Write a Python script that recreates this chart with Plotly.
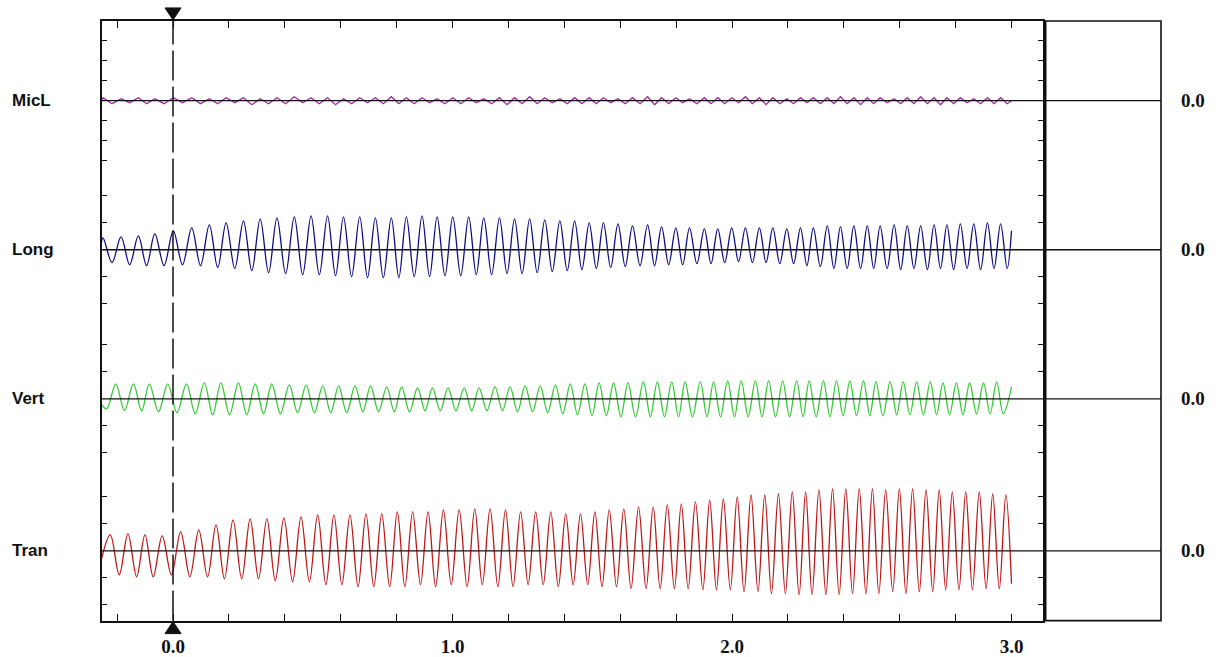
import plotly.graph_objects as go

# ---------------- data ----------------
CHANNELS = ["MicL", "Long", "Vert", "Tran"]

# times (s) of the successive Long peaks (cycle reference, chirp ~16 -> 21 Hz)
PEAK_T = [-0.250, -0.186, -0.124, -0.065, 0.001, 0.067, 0.130, 0.190, 0.252, 0.312,
          0.372, 0.434, 0.494, 0.553, 0.610, 0.668, 0.724, 0.781,
          0.835, 0.891, 0.945, 1.001, 1.058, 1.112, 1.168, 1.222, 1.276, 1.330,
          1.384, 1.437, 1.489, 1.540, 1.592, 1.644, 1.698, 1.748, 1.799, 1.848, 1.901,
          1.949, 1.999, 2.048, 2.098, 2.146, 2.196, 2.245, 2.291, 2.341, 2.388, 2.436,
          2.484, 2.530, 2.580, 2.627, 2.675, 2.723, 2.769, 2.817, 2.865, 2.914, 2.961]

# per-cycle positive peaks and following troughs (display units)
MICL_PEAKS = [3, 2, 3, 2, 3, 3, 2, 3, 3, 2, 3, 4, 3, 3, 2, 3, 3, 4,
              3, 3, 2, 3, 3, 2, 3, 3, 4, 3, 2, 3, 3, 3, 2, 3, 4, 3, 3, 2, 3,
              3, 3, 4, 3, 3, 2, 3, 3, 3, 4, 3, 3, 3, 2, 3, 4, 3, 3, 3, 2, 3, 3]
MICL_TROUGHS = [-3, -2, -3, -3, -2, -3, -3, -2, -4, -3, -3, -2, -3, -4, -3, -2, -3, -3,
                -3, -2, -3, -3, -2, -3, -4, -3, -3, -2, -3, -3, -3, -2, -3, -3, -4, -3, -2, -3, -3,
                -3, -2, -3, -4, -3, -3, -2, -3, -3, -3, -4, -3, -2, -3, -3, -3, -4, -3, -2, -3, -3, -3]

LONG_PEAKS = [12, 13, 14, 16, 19, 22, 25, 27, 29, 31, 32, 33, 34, 34, 33, 33, 32, 32,
              33, 34, 33, 33, 33, 32, 32, 31, 31, 30, 29, 29, 27, 27, 26, 24, 25, 23, 22, 22, 21,
              21, 22, 22, 22, 22, 21, 22, 22, 24, 23, 24, 24, 24, 25, 24, 24, 25, 25, 26, 26, 27, 26]
LONG_TROUGHS = [-13, -15, -16, -16, -15, -16, -18, -19, -21, -23, -24, -25, -25, -26, -27, -28, -28, -28,
                -27, -27, -26, -26, -25, -25, -24, -24, -23, -22, -21, -20, -19, -18, -17, -16, -16, -15, -15, -14, -14,
                -13, -12, -13, -13, -14, -14, -16, -17, -19, -19, -19, -19, -19, -20, -19, -20, -19, -20, -19, -20, -19, -19]

VERT_PEAKS = [14, 15, 15, 15, 15, 15, 16, 16, 16, 15, 15, 14, 14, 13, 13, 13, 13, 12,
              12, 11, 11, 11, 11, 11, 12, 12, 13, 13, 14, 15, 15, 16, 16, 16, 17, 17, 17, 17, 17,
              17, 18, 18, 18, 18, 18, 18, 18, 18, 18, 18, 18, 17, 17, 17, 17, 17, 16, 16, 16, 16, 17]
VERT_TROUGHS = [-10, -12, -12, -13, -14, -15, -16, -16, -16, -15, -15, -14, -14, -14, -14, -13, -13, -13,
                -13, -12, -12, -12, -12, -12, -12, -13, -13, -14, -15, -16, -17, -17, -18, -18, -18, -18, -18, -18, -18,
                -18, -18, -18, -18, -18, -18, -18, -18, -18, -17, -17, -17, -17, -16, -16, -16, -16, -16, -16, -15, -15, -15]

TRAN_PEAKS = [16, 17, 16, 15, 19, 21, 26, 31, 32, 32, 33, 34, 36, 36, 36, 37, 37, 39,
              39, 39, 41, 41, 42, 42, 41, 39, 39, 39, 37, 37, 39, 41, 42, 44, 44, 46, 47, 49, 51,
              52, 54, 56, 56, 57, 59, 59, 61, 62, 62, 62, 62, 61, 62, 62, 61, 61, 59, 59, 59, 57, 56]
TRAN_TROUGHS = [-24, -26, -26, -24, -26, -26, -28, -28, -28, -30, -31, -31, -34, -34, -36, -36, -36, -36,
                -34, -36, -34, -36, -34, -36, -36, -34, -34, -36, -34, -34, -36, -36, -38, -38, -38, -38, -38, -39, -39,
                -39, -41, -41, -43, -43, -44, -44, -44, -44, -43, -43, -43, -41, -43, -41, -41, -39, -39, -39, -38, -38, -36]

# phase of each channel's peaks relative to the Long peaks (fraction of a cycle)
PHASES = [0.0, 0.0, -0.3, 0.4]
START_VALUES = [0, 8, -6, -8]
END_VALUES = [0, 19, 12, -33]

X_TICKS = [-0.2, 0.0, 0.2, 0.4, 0.6, 0.8, 1.0, 1.2, 1.4, 1.6, 1.8, 2.0, 2.2, 2.4, 2.6, 2.8, 3.0]
X_LABELS = ["", "0.0", "", "", "", "", "1.0", "", "", "", "", "2.0", "", "", "", "", "3.0"]
ZERO_LABEL = "0.0"
CURSOR_T = 0.0
T_END = 3.0

# ---------------- layout constants ----------------
W, H = 1222, 657
PX_LEFT, PX_RIGHT = 101.5, 1043.3
PX_TOP, PX_BOTTOM = 21.0, 622.5
PX_BOX_L, PX_BOX_R = 1045.7, 1161.0
T0_PX, PX_PER_S = 173.0, 279.5
X_RANGE = [(PX_LEFT - T0_PX) / PX_PER_S, (PX_RIGHT - T0_PX) / PX_PER_S]
T_START = X_RANGE[0]
XDOM = [PX_LEFT / W, PX_RIGHT / W]
YDOM = [(H - PX_BOTTOM) / H, (H - PX_TOP) / H]
Y_RANGE = [-PX_BOTTOM, -PX_TOP]
BASELINES = [-101.0, -250.5, -400.0, -552.5]
TICK_OFFSETS = [[20, 40, 60], [27, 54], [27, 54], [27, 54]]
COLORS = ["#a0259f", "#0b0b86", "#35c935", "#c01515"]
SHAPES = ["linear", "spline", "spline", "spline"]

SERIES = [(MICL_PEAKS, MICL_TROUGHS), (LONG_PEAKS, LONG_TROUGHS),
          (VERT_PEAKS, VERT_TROUGHS), (TRAN_PEAKS, TRAN_TROUGHS)]


def build(peaks, troughs, phase, v0, v1, base):
    xs, ys = [T_START], [base + v0]
    n = len(PEAK_T)
    for i, (p, q) in enumerate(zip(peaks, troughs)):
        per = PEAK_T[i + 1] - PEAK_T[i] if i < n - 1 else PEAK_T[i] - PEAK_T[i - 1]
        tp = PEAK_T[i] + phase * per
        for t, v in ((tp, p), (tp + 0.5 * per, q)):
            if T_START < t < T_END:
                xs.append(t)
                ys.append(base + v)
    xs.append(T_END)
    ys.append(base + v1)
    return xs, ys


fig = go.Figure()
for k, name in enumerate(CHANNELS):
    pk, tr = SERIES[k]
    xs, ys = build(pk, tr, PHASES[k], START_VALUES[k], END_VALUES[k], BASELINES[k])
    fig.add_trace(go.Scatter(x=xs, y=ys, mode="lines", name=name,
                             line=dict(color=COLORS[k], width=1.3, shape=SHAPES[k], smoothing=1.0),
                             hoverinfo="skip", showlegend=False))

ytickvals = []
for b, offs in zip(BASELINES, TICK_OFFSETS):
    for o in offs:
        ytickvals += [b + o, b - o]

shapes = []
# baselines running across into the right-hand box
for b in BASELINES:
    shapes.append(dict(type="line", xref="paper", yref="y", x0=XDOM[0], x1=PX_BOX_R / W,
                       y0=b, y1=b, line=dict(color="#111", width=1.3), layer="above"))
# dashed cursor line
shapes.append(dict(type="line", xref="x", yref="paper", x0=CURSOR_T, x1=CURSOR_T, y0=YDOM[0], y1=YDOM[1],
                   line=dict(color="#111", width=1.5, dash="30px,6px"), layer="above"))
# cursor triangles (pixel-sized, anchored at the cursor time)
shapes.append(dict(type="path", xref="x", yref="paper", xsizemode="pixel", ysizemode="pixel",
                   xanchor=CURSOR_T, yanchor=YDOM[1], path="M-8,13 L8,13 L0,1 Z",
                   fillcolor="#111", line=dict(color="#111", width=1)))
shapes.append(dict(type="path", xref="x", yref="paper", xsizemode="pixel", ysizemode="pixel",
                   xanchor=CURSOR_T, yanchor=YDOM[0], path="M-8,-13 L8,-13 L0,-1 Z",
                   fillcolor="#111", line=dict(color="#111", width=1)))
# right-hand value box
shapes.append(dict(type="rect", xref="paper", yref="paper", x0=PX_BOX_L / W, x1=PX_BOX_R / W,
                   y0=YDOM[0], y1=YDOM[1], line=dict(color="#111", width=1.6)))

annotations = []
for name, b in zip(CHANNELS, BASELINES):
    annotations.append(dict(text=name, xref="paper", yref="y", x=10 / W, y=b, xanchor="left",
                            yanchor="middle", showarrow=False,
                            font=dict(family="Liberation Sans", size=17, color="#111", weight="bold")))
    annotations.append(dict(text=ZERO_LABEL, xref="paper", yref="y", x=1193 / W, y=b, xanchor="center",
                            yanchor="middle", showarrow=False,
                            font=dict(family="Liberation Serif", size=19, color="#111", weight="bold")))

fig.update_layout(
    width=W, height=H, margin=dict(l=0, r=0, t=0, b=0),
    paper_bgcolor="white", plot_bgcolor="white",
    xaxis=dict(domain=XDOM, range=X_RANGE, showgrid=False, zeroline=False,
               showline=True, linecolor="#111", linewidth=1.6, mirror="ticks",
               ticks="inside", ticklen=7, tickwidth=1.3, tickcolor="#111",
               tickvals=X_TICKS, ticktext=X_LABELS, ticklabelstandoff=8,
               tickfont=dict(family="Liberation Serif", size=19, color="#111", weight="bold")),
    yaxis=dict(domain=YDOM, range=Y_RANGE, showgrid=False, zeroline=False,
               showline=True, linecolor="#111", linewidth=1.6, mirror="ticks",
               ticks="inside", ticklen=6, tickwidth=1.3, tickcolor="#111",
               tickvals=ytickvals, showticklabels=False),
    shapes=shapes, annotations=annotations,
)

fig.write_html("out.html", config={"displayModeBar": False},
               post_script="document.body.style.margin='0';")
